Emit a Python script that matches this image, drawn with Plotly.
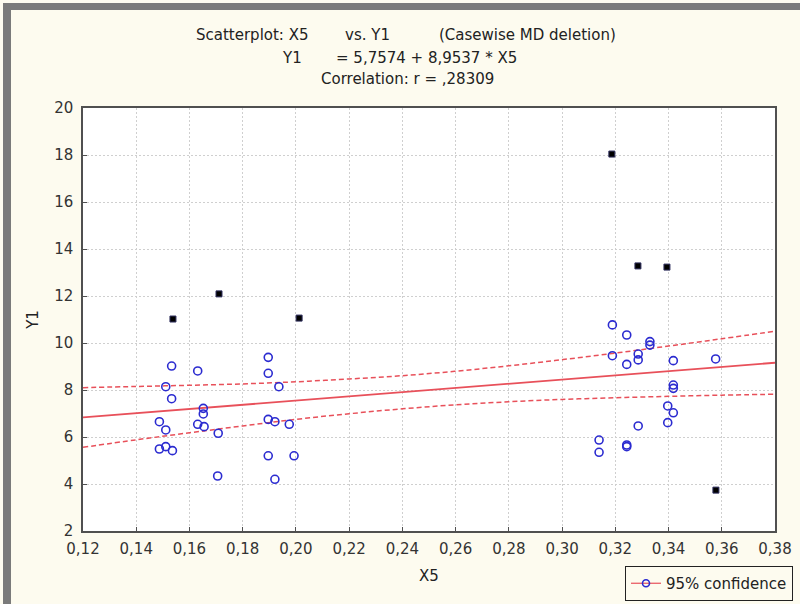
import plotly.graph_objects as go

# ---- data ----
x5_normal = [0.1533, 0.1631, 0.1896, 0.1896, 0.1511, 0.1936, 0.1533, 0.1652, 0.1652, 0.1487,
             0.1511, 0.1631, 0.1655, 0.1708, 0.1896, 0.1921, 0.1975, 0.1487, 0.1511, 0.1536,
             0.1896, 0.1993, 0.1706, 0.1921,
             0.3189, 0.3243, 0.3330, 0.3330, 0.3189, 0.3286, 0.3286, 0.3243, 0.3418, 0.3577,
             0.3418, 0.3418, 0.3397, 0.3418, 0.3286, 0.3397, 0.3139, 0.3139, 0.3243, 0.3243]
y1_normal = [9.02, 8.81, 9.39, 8.71, 8.14, 8.14, 7.63, 7.22, 6.98, 6.65,
             6.30, 6.54, 6.44, 6.16, 6.75, 6.65, 6.54, 5.49, 5.59, 5.42,
             5.20, 5.20, 4.34, 4.20,
             10.77, 10.34, 10.06, 9.91, 9.46, 9.53, 9.28, 9.09, 9.25, 9.32,
             8.21, 8.07, 7.32, 7.03, 6.47, 6.61, 5.87, 5.35, 5.66, 5.59]

x5_outlier = [0.1538, 0.1711, 0.2012, 0.3187, 0.3285, 0.3394, 0.3578]
y1_outlier = [11.02, 12.09, 11.06, 18.04, 13.28, 13.23, 3.74]

intercept = 5.7574
slope = 8.9537

band_x = [0.12, 0.14, 0.16, 0.18, 0.20, 0.22, 0.24, 0.26, 0.28, 0.30, 0.32, 0.34, 0.36, 0.38]
band_upper = [8.10, 8.15, 8.20, 8.26, 8.35, 8.47, 8.61, 8.80, 9.03, 9.29, 9.57, 9.87, 10.18, 10.50]
band_lower = [5.56, 5.88, 6.18, 6.47, 6.75, 6.99, 7.20, 7.37, 7.50, 7.60, 7.67, 7.73, 7.78, 7.82]

x_ticks = [0.12, 0.14, 0.16, 0.18, 0.20, 0.22, 0.24, 0.26, 0.28, 0.30, 0.32, 0.34, 0.36, 0.38]
y_ticks = [2, 4, 6, 8, 10, 12, 14, 16, 18, 20]

# ---- layout geometry (pixels) ----
W, H = 800, 604
L, R, T, B = 83, 775, 108, 531
def px(xp):
    return (xp - L) / (R - L)
def py(yp):
    return (B - yp) / (B - T)

PAPER = "#FDFBEF"
RED = "#E8505A"
BLUE = "#2B2BD0"
TXT = "#222222"
FONT = "DejaVu Sans"
FS = 15

line_x = [x_ticks[0], x_ticks[-1]]
line_y = [intercept + slope * v for v in line_x]

fig = go.Figure()
fig.add_trace(go.Scatter(x=band_x, y=band_upper, mode="lines", line=dict(color=RED, width=1.5, dash="5px,3px"),
                         line_shape="spline", showlegend=False, hoverinfo="skip"))
fig.add_trace(go.Scatter(x=band_x, y=band_lower, mode="lines", line=dict(color=RED, width=1.5, dash="5px,3px"),
                         line_shape="spline", showlegend=False, hoverinfo="skip"))
fig.add_trace(go.Scatter(x=line_x, y=line_y, mode="lines", line=dict(color=RED, width=1.8),
                         showlegend=False, hoverinfo="skip"))
fig.add_trace(go.Scatter(x=x5_normal, y=y1_normal, mode="markers",
                         marker=dict(symbol="circle-open", size=8, color=BLUE, line=dict(width=1.6, color=BLUE)),
                         showlegend=False))
fig.add_trace(go.Scatter(x=x5_outlier, y=y1_outlier, mode="markers",
                         marker=dict(symbol="square", size=6, color="black", line=dict(width=1, color="#303060")),
                         showlegend=False))
fig.add_trace(go.Scatter(x=[None], y=[None], mode="lines+markers", name="95% confidence",
                         line=dict(color=RED, width=1.2),
                         marker=dict(symbol="circle-open", size=7, color=BLUE, line=dict(width=1.6, color=BLUE))))

axis_common = dict(showgrid=True, gridcolor="#cfcfcf", griddash="2px,2px", gridwidth=1,
                   showline=True, linecolor="#505050", linewidth=1.5, mirror=True,
                   ticks="inside", ticklen=4, tickcolor="#505050", zeroline=False,
                   tickfont=dict(family=FONT, size=FS, color="#333333"))

fig.update_layout(
    width=W, height=H,
    margin=dict(l=L, r=W - R, t=T, b=H - B, autoexpand=False),
    paper_bgcolor=PAPER, plot_bgcolor="white",
    separators=", ",
    xaxis=dict(range=[0.12, 0.38], tickvals=x_ticks, tickformat=".2f", ticklabelstandoff=3,
               title=dict(text="X5", font=dict(family=FONT, size=FS, color=TXT), standoff=14),
               **axis_common),
    yaxis=dict(range=[2, 20], tickvals=y_ticks, ticklabelstandoff=5,
               title=dict(text="Y1", font=dict(family=FONT, size=FS, color=TXT), standoff=12),
               **axis_common),
    legend=dict(x=px(793), xanchor="right", y=py(566), yanchor="top",
                bgcolor=PAPER, bordercolor="#222222", borderwidth=1,
                font=dict(family=FONT, size=FS, color=TXT),
                itemwidth=30, tracegroupgap=0),
    showlegend=True,
)

def ann(text, xc, yc):
    fig.add_annotation(text=text, xref="paper", yref="paper", x=px(xc), y=py(yc),
                       xanchor="center", yanchor="middle", showarrow=False,
                       font=dict(family=FONT, size=FS, color=TXT))

ann("Scatterplot: X5", 252, 35)
ann("vs. Y1", 367, 35)
ann("(Casewise MD deletion)", 527, 35)
ann("Y1", 292, 58)
ann("= 5,7574 + 8,9537 * X5", 426, 58)
ann("Correlation: r = ,28309", 407, 79)

# outer window frame (left and top edges)
fig.add_shape(type="rect", xref="paper", yref="paper", x0=px(3), x1=px(11), y0=py(H + 5), y1=py(3),
              fillcolor="#7a7a7a", line=dict(width=0), layer="above")
fig.add_shape(type="rect", xref="paper", yref="paper", x0=px(3), x1=px(W + 5), y0=py(10), y1=py(3),
              fillcolor="#7a7a7a", line=dict(width=0), layer="above")

fig.write_html("out.html", config={"displayModeBar": False},
               post_script="document.body.style.margin='0';document.body.style.overflow='hidden';")
